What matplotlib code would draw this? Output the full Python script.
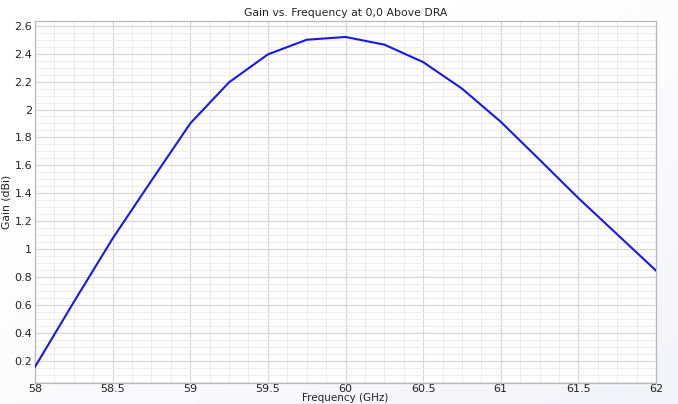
import matplotlib
matplotlib.use("Agg")
import matplotlib.pyplot as plt
from matplotlib.ticker import MultipleLocator, FuncFormatter
import numpy as np

# ── data ──────────────────────────────────────────────────
freq_ghz = [58.0, 58.25, 58.5, 58.75, 59.0, 59.25, 59.5, 59.75,
            60.0, 60.25, 60.5, 60.75, 61.0, 61.25, 61.5, 61.75, 62.0]
gain_dbi = [0.155, 0.62, 1.075, 1.49, 1.90, 2.195, 2.395, 2.50,
            2.52, 2.465, 2.34, 2.15, 1.912, 1.64, 1.365, 1.105, 0.845]

x_ticks = [58, 58.5, 59, 59.5, 60, 60.5, 61, 61.5, 62]
y_ticks = [0.2, 0.4, 0.6, 0.8, 1.0, 1.2, 1.4, 1.6, 1.8, 2.0, 2.2, 2.4, 2.6]


def fmt(v, _):
    s = f"{v:.2f}".rstrip("0").rstrip(".")
    return s


fig = plt.figure(figsize=(6.78, 4.04), dpi=100)

# light bluish backdrop that fades in toward the bottom right
bg = fig.add_axes([0, 0, 1, 1], zorder=-10)
gy, gx = np.mgrid[0:1:200j, 0:1:200j]
shade = np.clip(0.6 * gy + 0.5 * gx - 0.35, 0, 1)
img = np.ones((200, 200, 3))
tint = np.array([0.93, 0.94, 0.98])
img = img * (1 - shade[..., None]) + tint * shade[..., None]
bg.imshow(img[::-1], extent=[0, 1, 0, 1], aspect="auto", origin="lower")
bg.axis("off")

ax = fig.add_axes([35 / 678, 21.5 / 404, 621 / 678, 362 / 404])
ax.set_facecolor("white")
ax.plot(freq_ghz, gain_dbi, color="#1818e8", lw=1.5, zorder=3)

ax.set_xlim(58, 62)
ax.set_ylim(0.043, 2.638)
ax.set_xticks(x_ticks)
ax.set_yticks(y_ticks)
ax.xaxis.set_minor_locator(MultipleLocator(0.125))
ax.yaxis.set_minor_locator(MultipleLocator(0.05))
ax.xaxis.set_major_formatter(FuncFormatter(fmt))
ax.yaxis.set_major_formatter(FuncFormatter(fmt))

ax.grid(which="major", color="#d8d8d8", lw=0.9)
ax.grid(which="minor", color="#ececec", lw=0.7)
ax.set_axisbelow(True)

for sp in ax.spines.values():
    sp.set_color("#b8b8b8")
    sp.set_linewidth(0.9)

ax.tick_params(which="both", length=0, labelsize=8, colors="#222222", pad=2)
ax.tick_params(axis="x", pad=1)

ax.set_title("Gain vs. Frequency at 0,0 Above DRA", fontsize=7.8,
             color="#222222", pad=3)
ax.set_xlabel("Frequency (GHz)", fontsize=7.5, color="#222222", labelpad=-0.5)
ax.set_ylabel("Gain (dBi)", fontsize=7.8, color="#222222", labelpad=2)

plt.savefig("out.png", dpi=100)
plt.close()
